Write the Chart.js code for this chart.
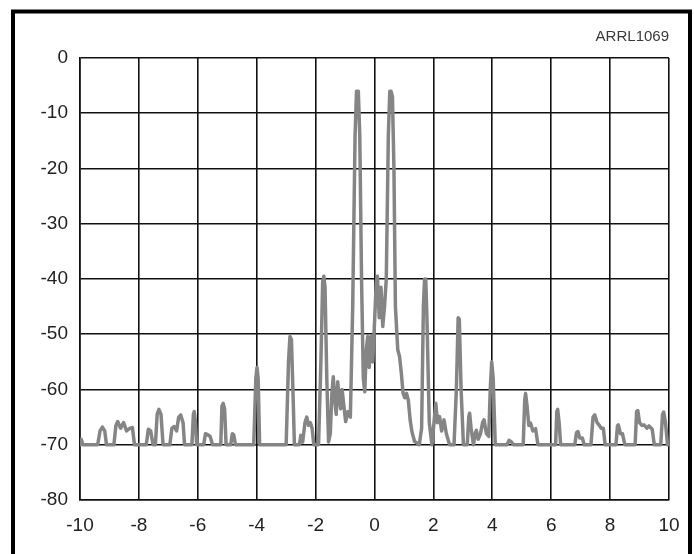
<!DOCTYPE html>
<html>
<head>
<meta charset="utf-8">
<title>ARRL1069 spectrum</title>
<script src="https://cdn.jsdelivr.net/npm/chart.js@4/dist/chart.umd.min.js"></script>
<style>
  html, body { margin: 0; padding: 0; background: #fff; }
  canvas { display: block; }
</style>
</head>
<body>
<canvas id="spectrum" width="694" height="554"></canvas>
<script>
// Frequency offset (horizontal) and level in dB (vertical) of the trace
const freqs = [
  -10.00, -9.96, -9.90, -9.40, -9.32, -9.24, -9.16, -9.10,
  -8.85, -8.78, -8.72, -8.62, -8.52, -8.42, -8.30, -8.22, -8.15,
  -7.75, -7.68, -7.60, -7.52, -7.44, -7.38, -7.32, -7.25, -7.18,
  -6.95, -6.88, -6.80, -6.72, -6.65, -6.58, -6.50, -6.45,
  -6.20, -6.15, -6.12, -6.08, -6.04,
  -5.80, -5.74, -5.66, -5.58, -5.50,
  -5.22, -5.18, -5.14, -5.09, -5.04,
  -4.88, -4.83, -4.78, -4.72,
  -4.10, -4.03, -3.99, -3.95, -3.90,
  -3.00, -2.92, -2.87, -2.82, -2.76, -2.72,
  -2.55, -2.50, -2.44, -2.36, -2.30, -2.24, -2.18, -2.12, -2.06,
  -1.90, -1.82, -1.76, -1.72, -1.68, -1.62, -1.56,
  -1.50, -1.45, -1.40, -1.35, -1.30, -1.25, -1.20, -1.15, -1.10, -1.05,
  -0.98, -0.90, -0.82, -0.74, -0.66, -0.61, -0.55, -0.50, -0.44, -0.38,
  -0.33, -0.28, -0.23, -0.18, -0.12, -0.06,
  0.00, 0.06, 0.10, 0.16, 0.22, 0.28, 0.34, 0.40, 0.47, 0.52, 0.56, 0.61, 0.66,
  0.71, 0.79, 0.85, 0.91, 0.97, 1.03, 1.09, 1.15, 1.21, 1.27, 1.36,
  1.52, 1.60, 1.66, 1.70, 1.74, 1.78, 1.86, 1.95,
  2.02, 2.08, 2.14, 2.21, 2.28, 2.36, 2.44, 2.55,
  2.70, 2.78, 2.84, 2.88, 2.94, 3.02,
  3.15, 3.20, 3.23, 3.28, 3.36, 3.42, 3.46, 3.52, 3.60, 3.67, 3.72, 3.80, 3.88,
  3.93, 3.98, 4.03, 4.10,
  4.50, 4.57, 4.65, 4.72,
  5.05, 5.10, 5.13, 5.18, 5.24, 5.30, 5.38, 5.47, 5.55,
  6.15, 6.19, 6.22, 6.27, 6.32,
  6.80, 6.86, 6.91, 6.97, 7.06, 7.12,
  7.35, 7.42, 7.48, 7.56, 7.62, 7.70, 7.77, 7.83,
  8.20, 8.25, 8.28, 8.35, 8.42, 8.50,
  8.85, 8.90, 8.94, 9.00, 9.08, 9.15, 9.25, 9.32, 9.43, 9.50,
  9.72, 9.78, 9.82, 9.88, 9.95, 10.00
];

const levels = [
  -70, -69, -70, -70, -67.5, -66.8, -67.5, -70,
  -70, -66.5, -65.8, -67, -66, -67.5, -67, -66.9, -70,
  -70, -67.2, -67.5, -70, -70, -64.5, -63.6, -64.5, -70,
  -70, -67, -66.7, -67.5, -65, -64.6, -66, -70,
  -70, -64.5, -64, -66, -70,
  -70, -68, -68.2, -68.5, -70,
  -70, -63, -62.5, -63.5, -70,
  -70, -68, -68.2, -70,
  -70, -58, -56, -58, -70,
  -70, -55, -50.4, -51, -62, -70,
  -70, -68.3, -69.5, -66, -65, -66.5, -66, -67, -70,
  -70, -55, -40.5, -39.5, -41.5, -58, -69.5,
  -68, -61, -57.7, -62, -64.5, -58.6, -61.5, -63.5, -60, -62.5,
  -65.8, -64, -65, -45, -14, -6, -6, -14, -40, -58,
  -60.4, -53, -50.4, -56, -50.4, -55,
  -48, -40.5, -39.5, -47, -41.5, -48.6, -45, -40, -14, -6, -6, -7, -20,
  -45, -52.8, -54, -57, -60.7, -61.5, -60.7, -62, -65.5, -67.6, -69.4,
  -70, -67, -45, -40, -40, -47, -66, -70,
  -66, -62.5, -66, -64.9, -67.5, -65.5, -68, -70,
  -70, -60, -47, -47.3, -60, -70,
  -70, -65, -64.3, -67, -70, -68, -67.4, -69, -68, -66, -65.5, -68, -68.5,
  -60, -55, -58, -70,
  -70, -69.2, -69.5, -70,
  -70, -62, -60.7, -63, -66.5, -66.1, -67.5, -67.1, -70,
  -70, -64, -63.6, -66, -70,
  -70, -67.8, -67.6, -68.8, -68.8, -70,
  -70, -65, -64.6, -66, -66.4, -67, -67, -70,
  -70, -66.6, -66.4, -68, -68, -70,
  -70, -64, -63.8, -66, -66.5, -66.4, -67, -66.6, -67.2, -70,
  -70, -64.5, -64.1, -66, -70, -70
];

// Axis tick values
const xTicks = [-10, -8, -6, -4, -2, 0, 2, 4, 6, 8, 10];
const yTicks = [0, -10, -20, -30, -40, -50, -60, -70, -80];

const tracePoints = freqs.map((f, i) => ({ x: f, y: levels[i] }));

// Heavy black frame around the whole figure
const framePlugin = {
  id: 'frame',
  afterDraw(chart) {
    const ctx = chart.ctx;
    ctx.save();
    ctx.strokeStyle = '#000';
    ctx.lineWidth = 4;
    ctx.strokeRect(13, 11.5, 677, 560);
    ctx.restore();
  }
};

const tickFont = { family: '"Liberation Sans", Arial, sans-serif', size: 19 };

new Chart(document.getElementById('spectrum'), {
  type: 'scatter',
  data: {
    datasets: [{
      data: tracePoints,
      showLine: true,
      borderColor: '#858585',
      borderWidth: 3.5,
      borderJoinStyle: 'round',
      borderCapStyle: 'round',
      pointRadius: 0,
      tension: 0
    }]
  },
  options: {
    responsive: false,
    animation: false,
    devicePixelRatio: 1,
    layout: { padding: { left: 0, right: 25, top: 0, bottom: 0 } },
    plugins: {
      legend: { display: false },
      tooltip: { enabled: false },
      title: {
        display: true,
        text: 'ARRL1069',
        align: 'end',
        color: '#3a3a3a',
        font: { family: '"Liberation Sans", Arial, sans-serif', size: 15, weight: 'normal' },
        padding: { top: 28, bottom: 12 }
      }
    },
    scales: {
      x: {
        type: 'linear',
        min: -10,
        max: 10,
        afterBuildTicks: s => { s.ticks = xTicks.map(v => ({ value: v })); },
        afterFit: s => { s.height = 54; },
        ticks: { color: '#222', font: tickFont, padding: 14, maxRotation: 0 },
        grid: { color: '#111', lineWidth: 1.6, drawTicks: false },
        border: { color: '#111', width: 1.6 }
      },
      y: {
        type: 'linear',
        min: -80,
        max: 0,
        afterBuildTicks: s => { s.ticks = yTicks.map(v => ({ value: v })); },
        afterFit: s => { s.width = 80; },
        ticks: { color: '#222', font: tickFont, padding: 12 },
        grid: { color: '#111', lineWidth: 1.6, drawTicks: false },
        border: { color: '#111', width: 1.6 }
      }
    }
  },
  plugins: [framePlugin]
});
</script>
</body>
</html>
